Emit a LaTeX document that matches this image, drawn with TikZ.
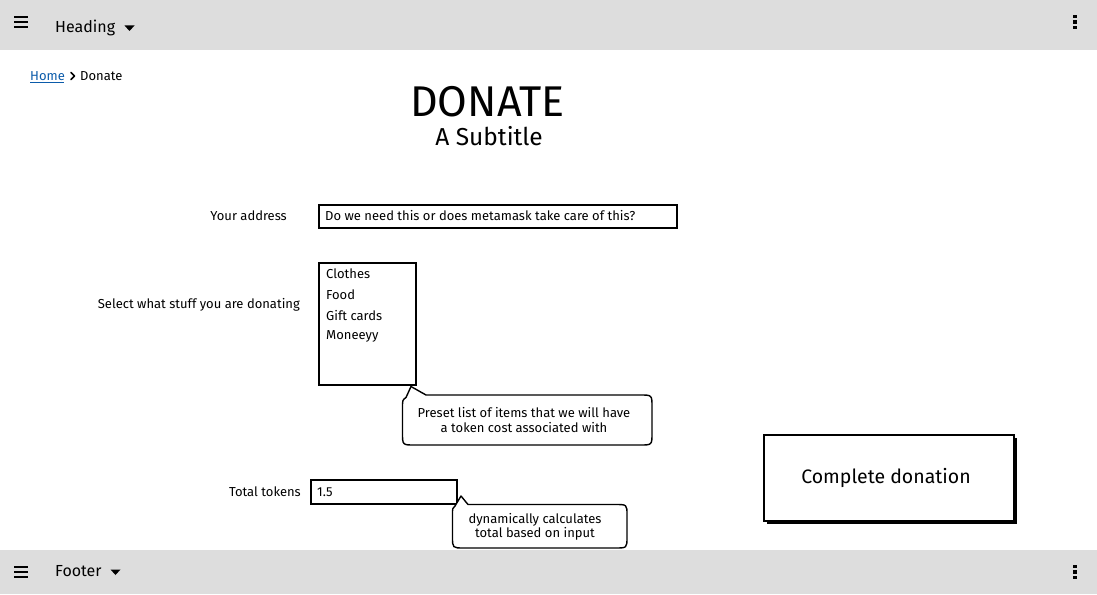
\documentclass[tikz,border=0pt]{standalone}
\usepackage{fontspec}
\setmainfont{Fira Sans}
\usetikzlibrary{calc}
\definecolor{barg}{HTML}{DDDDDD}
\definecolor{linkc}{HTML}{0B5BAA}
\tikzset{
  fs/.style={font=\fontsize{#1}{#1}\selectfont},
  lbl/.style={fs=13, inner sep=0pt, anchor=east},
  txt/.style={fs=13, inner sep=0pt, anchor=west},
  box/.style={draw=black, line width=1.8pt, fill=white, inner sep=0pt, outer sep=0pt, anchor=north west},
  callout/.style={draw=black, line width=1.4pt, fill=white, line join=round},
  ctext/.style={fs=13, inner sep=0pt, align=center},
  iconline/.style={line width=2.6pt},
  dotsq/.style={fill=black, draw=none, minimum size=3.2pt, inner sep=0pt},
}
\begin{document}
\begin{tikzpicture}[x=1pt,y=-1pt]
\useasboundingbox (0,0) rectangle (1097,594);
\fill[white] (0,0) rectangle (1097,594);
% header bar
\fill[barg] (0,0) rectangle (1097,50);
\draw[iconline] (14,17) -- (28,17) (14,22) -- (28,22) (14,27) -- (28,27);
\node[txt, fs=16] (heading) at (55,27.5) {Heading};
\fill (124.5,25.5) -- (134.5,25.5) -- (129.5,31) -- cycle;
\node[dotsq] (hd1) at (1075,16.5) {};
\node[dotsq] (hd2) at (1075,22) {};
\node[dotsq] (hd3) at (1075,27.5) {};
% breadcrumb
\node[txt, text=linkc] (home) at (30,76) {Home};
\draw[linkc, line width=0.9pt] (30,82.5) -- (63.5,82.5);
\draw[line width=1.6pt, line cap=round, line join=round] (71,72.5) -- (74.5,76) -- (71,79.5);
\node[txt] (donate) at (80,76) {Donate};
% title
\node[fs=43, inner sep=0pt] (title) at (487.5,102) {DONATE};
\node[fs=24.5, inner sep=0pt] (sub) at (489,136) {A Subtitle};
% address
\node[lbl] (addrl) at (287,215.5) {Your address};
\node[box, minimum width=358pt, minimum height=23pt] (addr) at (319,205) {};
\node[txt] (addrt) at (325,215.5) {Do we need this or does metamask take care of this?};
% list
\node[lbl] (stuffl) at (300,304.5) {Select what stuff you are donating};
\node[box, minimum width=97pt, minimum height=122pt] (lst) at (319,263) {};
\node[txt] (i1) at (326,273.5) {Clothes};
\node[txt] (i2) at (326,294.5) {Food};
\node[txt] (i3) at (326,315.5) {Gift cards};
\node[txt] (i4) at (326,336.5) {Moneeyy};
% callout 1
\coordinate (tip1) at ($(lst.south east)+(-5,1.5)$);
\draw[callout] (426,395) -- (tip1) -- (406,397.5) .. controls (402.5,400) .. (402.5,408) -- (402.5,433) .. controls (402.5,445) .. (414.5,445) -- (640,445) .. controls (652,445) .. (652,433) -- (652,407) .. controls (652,395) .. (640,395) -- cycle;
\node[ctext] (c1) at (524,420.5) {Preset list of items that we will have\\[2pt]a token cost associated with};
% total tokens
\node[lbl] (totl) at (301,491.5) {Total tokens};
\node[box, minimum width=146pt, minimum height=24pt] (tot) at (311,480) {};
\node[txt] (tott) at (317,492) {1.5};
% callout 2
\coordinate (tip2) at ($(tot.south east)+(4,-8)$);
\draw[callout] (468,504.5) -- (tip2) -- (455,506) .. controls (452.5,508) .. (452.5,515) -- (452.5,537) .. controls (452.5,548) .. (464,548) -- (615,548) .. controls (627,548) .. (627,537) -- (627,515) .. controls (627,504.5) .. (615,504.5) -- cycle;
\node[ctext] (c2) at (535,527) {dynamically calculates\\[0.5pt]total based on input};
% button
\fill (767,438) rectangle (1017,524);
\node[box, minimum width=250pt, minimum height=86pt] (btn) at (764,435) {};
\node[fs=19.5, inner sep=0pt] (btnt) at (886,478) {Complete donation};
% footer
\fill[barg] (0,550) rectangle (1097,594);
\draw[iconline] (14,567) -- (28,567) (14,572) -- (28,572) (14,577) -- (28,577);
\node[txt, fs=16] (footer) at (55,571.5) {Footer};
\fill (110.5,569.5) -- (120.5,569.5) -- (115.5,575) -- cycle;
\node[dotsq] (fd1) at (1075,566.5) {};
\node[dotsq] (fd2) at (1075,572) {};
\node[dotsq] (fd3) at (1075,577.5) {};
\end{tikzpicture}
\end{document}
